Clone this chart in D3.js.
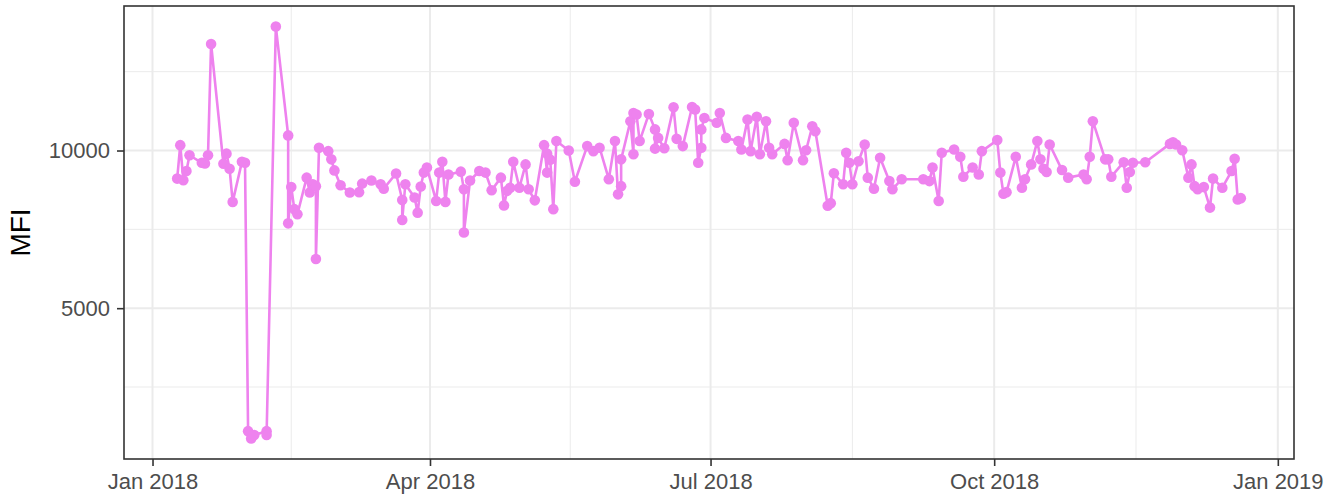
<!DOCTYPE html>
<html>
<head>
<meta charset="utf-8">
<script src="https://cdn.jsdelivr.net/npm/d3@7"></script>
<style>
body { margin: 0; background: #ffffff; }
svg text { font-family: "Liberation Sans", Arial, sans-serif; }
</style>
</head>
<body>
<script>
var fechasMFI = [
	"2018-01-09","2018-01-10","2018-01-11","2018-01-12","2018-01-13","2018-01-17","2018-01-18","2018-01-19","2018-01-20","2018-01-24",
	"2018-01-25","2018-01-26","2018-01-27","2018-01-30","2018-01-31","2018-02-01","2018-02-02","2018-02-03","2018-02-07","2018-02-07",
	"2018-02-10","2018-02-14","2018-02-14","2018-02-15","2018-02-16","2018-02-17","2018-02-20","2018-02-21","2018-02-22","2018-02-23",
	"2018-02-23","2018-02-24","2018-02-27","2018-02-28","2018-03-01","2018-03-03","2018-03-06","2018-03-09","2018-03-10","2018-03-13",
	"2018-03-16","2018-03-17","2018-03-21","2018-03-23","2018-03-23","2018-03-24","2018-03-27","2018-03-28","2018-03-29","2018-03-30",
	"2018-03-31","2018-04-03","2018-04-04","2018-04-05","2018-04-06","2018-04-07","2018-04-11","2018-04-12","2018-04-12","2018-04-14",
	"2018-04-17","2018-04-19","2018-04-21","2018-04-24","2018-04-25","2018-04-26","2018-04-27","2018-04-28","2018-04-30","2018-05-02",
	"2018-05-03","2018-05-05","2018-05-08","2018-05-09","2018-05-09","2018-05-10","2018-05-11","2018-05-12","2018-05-16","2018-05-18",
	"2018-05-22","2018-05-24","2018-05-26","2018-05-29","2018-05-31","2018-06-01","2018-06-02","2018-06-02","2018-06-05","2018-06-06",
	"2018-06-06","2018-06-07","2018-06-08","2018-06-11","2018-06-13","2018-06-13","2018-06-14","2018-06-16","2018-06-19","2018-06-20",
	"2018-06-22","2018-06-25","2018-06-26","2018-06-27","2018-06-28","2018-06-28","2018-06-29","2018-07-03","2018-07-04","2018-07-06",
	"2018-07-10","2018-07-11","2018-07-13","2018-07-14","2018-07-16","2018-07-17","2018-07-19","2018-07-20","2018-07-21","2018-07-25",
	"2018-07-26","2018-07-28","2018-07-31","2018-08-01","2018-08-03","2018-08-04","2018-08-08","2018-08-09","2018-08-10","2018-08-13",
	"2018-08-14","2018-08-15","2018-08-16","2018-08-18","2018-08-20","2018-08-21","2018-08-23","2018-08-25","2018-08-28","2018-08-29",
	"2018-09-01","2018-09-08","2018-09-10","2018-09-11","2018-09-13","2018-09-14","2018-09-18","2018-09-20","2018-09-21","2018-09-24",
	"2018-09-26","2018-09-27","2018-10-02","2018-10-03","2018-10-04","2018-10-05","2018-10-08","2018-10-10","2018-10-11","2018-10-13",
	"2018-10-15","2018-10-16","2018-10-17","2018-10-18","2018-10-19","2018-10-23","2018-10-25","2018-10-30","2018-10-31","2018-11-01",
	"2018-11-02","2018-11-06","2018-11-07","2018-11-08","2018-11-12","2018-11-13","2018-11-14","2018-11-15","2018-11-19","2018-11-27",
	"2018-11-28","2018-11-29","2018-12-01","2018-12-03","2018-12-04","2018-12-05","2018-12-06","2018-12-08","2018-12-10","2018-12-11",
	"2018-12-14","2018-12-17","2018-12-18","2018-12-19","2018-12-20"
];

var valoresMFI = [
	9110,10170,9060,9350,9850,9610,9590,9850,13380,9580,
	9900,9420,8370,9640,9610,1100,870,980,1100,980,
	13930,10480,7690,8840,8140,7980,9140,8670,8930,8870,
	6560,10090,9980,9720,9370,8900,8670,8680,8950,9050,
	8930,8790,9270,8430,7800,8930,8510,8030,8860,9300,
	9460,8400,9300,9640,8370,9240,9330,8770,7400,9050,
	9350,9300,8740,9140,8260,8720,8820,9640,8820,9560,
	8770,8420,10170,9300,9900,9710,8140,10300,10000,9010,
	10140,9980,10090,9090,10300,8610,8870,9720,10930,9880,
	11190,11140,10300,11160,10670,10060,10400,10070,11370,10370,
	10140,11380,11300,9610,10090,10670,11030,10880,11190,10400,
	10300,10030,10980,9980,11070,9880,10930,10090,9880,10210,
	9690,10880,9690,10010,10770,10610,8250,8330,9280,8930,
	9930,9610,8930,9660,10190,9140,8790,9770,9030,8770,
	9090,9090,9030,9460,8400,9930,10030,9800,9170,9460,
	9240,9980,10330,9300,8630,8680,9800,8820,9090,9560,
	10300,9720,9420,9320,10190,9380,9140,9240,9090,9800,
	10930,9720,9720,9170,9630,8820,9320,9610,9630,10210,
	10260,10190,10010,9140,9560,8870,8770,8840,8190,9110,
	8820,9350,9740,8450,8490
];

var ticksFechaX = ["2018-01-01", "2018-04-01", "2018-07-01", "2018-10-01", "2019-01-01"];
var etiquetasX = ["Jan 2018", "Apr 2018", "Jul 2018", "Oct 2018", "Jan 2019"];
var ticksY = [5000, 10000];
var ticksMenoresY = [2500, 7500, 12500];
var tituloY = "MFI";

var svgW = 1324;
var svgH = 497;
var panelIzq = 124;
var panelDer = 1294;
var panelSup = 6;
var panelInf = 459;
var colorSerie = "violet";
var colorGrid = "#ebebeb";
var colorBorde = "#333333";

var parseFecha = d3.utcParse("%Y-%m-%d");

var datos = fechasMFI.map(function (f, i) {
	return { fecha: parseFecha(f), mfi: valoresMFI[i] };
});

var svg = d3.select("body")
			.append("svg")
			.attr("width", svgW)
			.attr("height", svgH)
			;

/*
>>>>>>>>>>>>>>>>>>>>>>>>>>>>>>>>>>>>>>>>>>>>>>>>>>>> Scales (5% expansion like ggplot)
*/
var extX = d3.extent(datos, function (d) { return d.fecha; });
var anchoX = extX[1] - extX[0];
var xScale = d3.scaleUtc()
			   .domain([new Date(+extX[0] - anchoX * 0.05), new Date(+extX[1] + anchoX * 0.05)])
			   .range([panelIzq, panelDer])
			   ;

var extY = d3.extent(datos, function (d) { return d.mfi; });
var anchoY = extY[1] - extY[0];
var yScale = d3.scaleLinear()
			   .domain([extY[0] - anchoY * 0.05, extY[1] + anchoY * 0.05])
			   .range([panelInf, panelSup])
			   ;

var fechasTick = ticksFechaX.map(parseFecha);
var fechasMenores = [];
for (var i = 0; i < fechasTick.length - 1; i++) {
	fechasMenores.push(new Date((+fechasTick[i] + +fechasTick[i + 1]) / 2));
}

/*
>>>>>>>>>>>>>>>>>>>>>>>>>>>>>>>>>>>>>>>>>>>>>>>>>>>> Grid
*/
var grid = svg.append("g");

grid.selectAll(".menorY")
	.data(ticksMenoresY)
	.enter()
	.append("line")
	.attr("x1", panelIzq).attr("x2", panelDer)
	.attr("y1", function (d) { return yScale(d); })
	.attr("y2", function (d) { return yScale(d); })
	.attr("stroke", colorGrid)
	.attr("stroke-width", 1)
	;

grid.selectAll(".menorX")
	.data(fechasMenores)
	.enter()
	.append("line")
	.attr("y1", panelSup).attr("y2", panelInf)
	.attr("x1", function (d) { return xScale(d); })
	.attr("x2", function (d) { return xScale(d); })
	.attr("stroke", colorGrid)
	.attr("stroke-width", 1)
	;

grid.selectAll(".mayorY")
	.data(ticksY)
	.enter()
	.append("line")
	.attr("x1", panelIzq).attr("x2", panelDer)
	.attr("y1", function (d) { return yScale(d); })
	.attr("y2", function (d) { return yScale(d); })
	.attr("stroke", colorGrid)
	.attr("stroke-width", 2)
	;

grid.selectAll(".mayorX")
	.data(fechasTick)
	.enter()
	.append("line")
	.attr("y1", panelSup).attr("y2", panelInf)
	.attr("x1", function (d) { return xScale(d); })
	.attr("x2", function (d) { return xScale(d); })
	.attr("stroke", colorGrid)
	.attr("stroke-width", 2)
	;

/*
>>>>>>>>>>>>>>>>>>>>>>>>>>>>>>>>>>>>>>>>>>>>>>>>>>>> Line + points
*/
var linea = d3.line()
			  .x(function (d) { return xScale(d.fecha); })
			  .y(function (d) { return yScale(d.mfi); })
			  ;

svg.append("path")
   .datum(datos)
   .attr("d", linea)
   .attr("fill", "none")
   .attr("stroke", colorSerie)
   .attr("stroke-width", 2.6)
   .attr("stroke-linejoin", "round")
   ;

svg.selectAll(".punto")
   .data(datos)
   .enter()
   .append("circle")
   .attr("cx", function (d) { return xScale(d.fecha); })
   .attr("cy", function (d) { return yScale(d.mfi); })
   .attr("r", 5.3)
   .attr("fill", colorSerie)
   ;

/*
>>>>>>>>>>>>>>>>>>>>>>>>>>>>>>>>>>>>>>>>>>>>>>>>>>>> Border + axes
*/
svg.append("rect")
   .attr("x", panelIzq)
   .attr("y", panelSup)
   .attr("width", panelDer - panelIzq)
   .attr("height", panelInf - panelSup)
   .attr("fill", "none")
   .attr("stroke", colorBorde)
   .attr("stroke-width", 1.6)
   ;

var xAxis = d3.axisBottom(xScale)
			  .tickValues(fechasTick)
			  .tickFormat(function (d, i) { return etiquetasX[i]; })
			  .tickSizeInner(7)
			  .tickSizeOuter(0)
			  .tickPadding(7)
			  ;

var yAxis = d3.axisLeft(yScale)
			  .tickValues(ticksY)
			  .tickFormat(d3.format("d"))
			  .tickSizeInner(7)
			  .tickSizeOuter(0)
			  .tickPadding(7)
			  ;

var gx = svg.append("g")
			.attr("transform", "translate(0," + panelInf + ")")
			.call(xAxis)
			;

var gy = svg.append("g")
			.attr("transform", "translate(" + panelIzq + ",0)")
			.call(yAxis)
			;

[gx, gy].forEach(function (g) {
	g.select(".domain").remove();
	g.selectAll(".tick line").attr("stroke", colorBorde).attr("stroke-width", 1.6);
	g.selectAll(".tick text")
	 .attr("fill", "#4d4d4d")
	 .style("font-size", "22px")
	 .style("font-family", "'Liberation Sans', Arial, sans-serif")
	 ;
});

svg.append("text")
   .attr("transform", "translate(30," + ((panelSup + panelInf) / 2) + ") rotate(-90)")
   .attr("text-anchor", "middle")
   .attr("fill", "#000000")
   .style("font-size", "28px")
   .text(tituloY)
   ;
</script>
</body>
</html>
